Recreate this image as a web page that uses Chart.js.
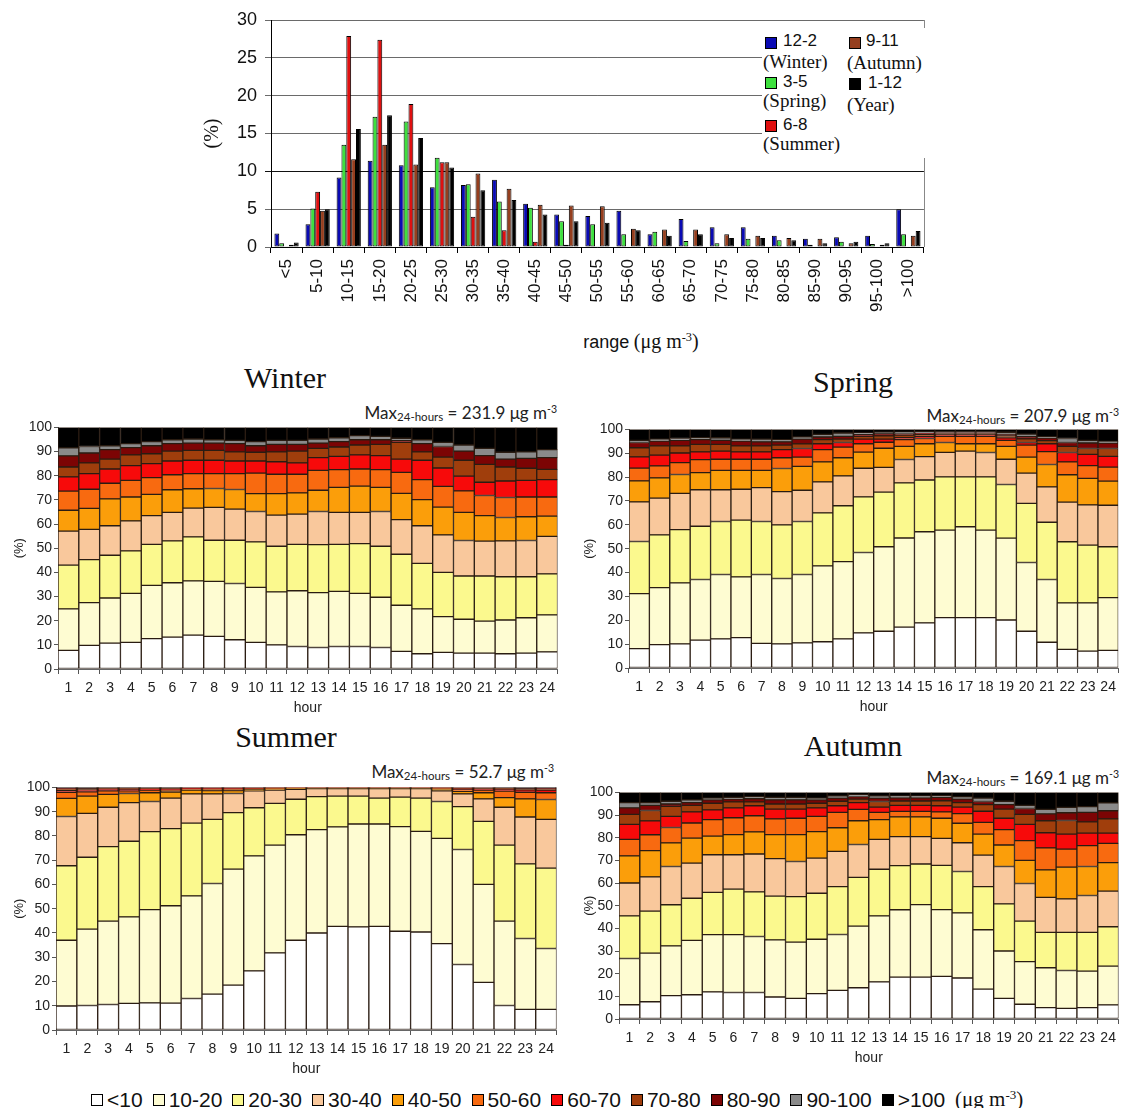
<!DOCTYPE html>
<html>
<head>
<meta charset="utf-8">
<title>PM distribution by range and hour</title>
<script src="https://cdn.jsdelivr.net/npm/chart.js@4.4.1/dist/chart.umd.min.js"></script>
<style>
    html, body { margin: 0; padding: 0; background: #fff; overflow: hidden; }
    #page { position: relative; width: 1122px; height: 1108px; font-family: "Liberation Sans", Arial, sans-serif; color: #111; }
    canvas { position: absolute; }
    .abs { position: absolute; white-space: nowrap; line-height: 1; }
    .serif { font-family: "Liberation Serif", "Times New Roman", serif; }
    .season { font-family: "Liberation Serif", serif; font-size: 30px; transform: translate(-50%, -50%); }
    .maxlbl { font-family: Lato, "Open Sans", sans-serif; font-size: 17px; color: #222; transform: translate(-100%, -50%); }
    sup { font-size: 0.62em; vertical-align: 0.55em; line-height: 0; }
    sub { font-size: 0.68em; vertical-align: -0.25em; line-height: 0; }
    .sw { position: absolute; width: 10px; height: 10px; border: 1px solid #000; }
    #topLegend { position: absolute; left: 762px; top: 28px; width: 163px; height: 130px; background: #fff; }
    #topLegend .t1 { position: absolute; font-size: 17px; line-height: 1; }
    #topLegend .t2 { position: absolute; font-size: 19px; line-height: 1; font-family: "Liberation Serif", serif; }
    #bottomLegend { position: absolute; left: 91px; top: 1087px; display: flex; align-items: center; gap: 10px; font-size: 21px; }
    #bottomLegend .item { display: flex; align-items: center; gap: 4px; }
    #bottomLegend .box { width: 10px; height: 10px; border: 1px solid #000; }
</style>
</head>
<body>
<div id="page">
    <canvas id="rangeChart"></canvas>

    <div id="topLegend">
        <div class="sw" style="left:3px;top:9px;background:#0a0ab4"></div>
        <div class="t1" style="left:21px;top:4px">12-2</div>
        <div class="t2" style="left:1px;top:24px">(Winter)</div>
        <div class="sw" style="left:3px;top:49px;background:#3ee03e"></div>
        <div class="t1" style="left:21px;top:45px">3-5</div>
        <div class="t2" style="left:1px;top:63px">(Spring)</div>
        <div class="sw" style="left:3px;top:92px;background:#e01010"></div>
        <div class="t1" style="left:21px;top:88px">6-8</div>
        <div class="t2" style="left:1px;top:106px">(Summer)</div>
        <div class="sw" style="left:87px;top:9px;background:#953e1e"></div>
        <div class="t1" style="left:104px;top:4px">9-11</div>
        <div class="t2" style="left:85px;top:25px">(Autumn)</div>
        <div class="sw" style="left:87px;top:50px;background:#000"></div>
        <div class="t1" style="left:106px;top:46px">1-12</div>
        <div class="t2" style="left:85px;top:67px">(Year)</div>
    </div>

    <div class="abs" style="left:641px;top:341px;transform:translate(-50%,-50%)">
        <span style="font-size:18px">range</span> <span class="serif" style="font-size:20px">(μg m<sup>-3</sup>)</span>
    </div>

    <div class="abs season" style="left:285px;top:378px">Winter</div>
    <div class="abs season" style="left:853px;top:382px">Spring</div>
    <div class="abs season" style="left:286px;top:737px">Summer</div>
    <div class="abs season" style="left:853px;top:746px">Autumn</div>

    <div class="abs maxlbl" style="left:557px;top:412px">Max<sub>24-hours</sub> = 231.9 μg m<sup>-3</sup></div>
    <div class="abs maxlbl" style="left:1119px;top:415px">Max<sub>24-hours</sub> = 207.9 μg m<sup>-3</sup></div>
    <div class="abs maxlbl" style="left:554px;top:771px">Max<sub>24-hours</sub> = 52.7 μg m<sup>-3</sup></div>
    <div class="abs maxlbl" style="left:1119px;top:777px">Max<sub>24-hours</sub> = 169.1 μg m<sup>-3</sup></div>

    <canvas id="winterChart"></canvas>
    <canvas id="springChart"></canvas>
    <canvas id="summerChart"></canvas>
    <canvas id="autumnChart"></canvas>

    <div id="bottomLegend"></div>
</div>

<script>
// ---- top chart: frequency (%) per concentration range ----
const rangeLabels = ['<5', '5-10', '10-15', '15-20', '20-25', '25-30', '30-35', '35-40', '40-45', '45-50',
    '50-55', '55-60', '60-65', '65-70', '70-75', '75-80', '80-85', '85-90', '90-95', '95-100', '>100'];
const winterPct = [1.8, 3.0, 9.2, 11.4, 10.8, 7.9, 8.2, 8.9, 5.7, 4.3, 4.1, 4.8, 1.7, 3.7, 2.6, 2.6, 1.5, 1.1, 1.3, 1.5, 5.0];
const springPct = [0.5, 5.1, 13.5, 17.2, 16.6, 11.8, 8.3, 6.0, 5.2, 3.4, 3.0, 1.7, 2.0, 0.8, 0.5, 1.1, 0.9, 0.3, 0.7, 0.4, 1.7];
const summerPct = [0.1, 7.3, 27.9, 27.4, 18.9, 11.2, 4.0, 2.2, 0.7, 0.3, 0.1, 0, 0, 0, 0, 0, 0, 0, 0, 0, 0];
const autumnPct = [0.3, 4.8, 11.6, 13.5, 10.9, 11.2, 9.7, 7.7, 5.6, 5.5, 5.4, 2.4, 2.3, 2.3, 1.7, 1.5, 1.2, 1.1, 0.5, 0.3, 1.5];
const yearPct = [0.6, 5.0, 15.6, 17.4, 14.4, 10.5, 7.5, 6.2, 4.3, 3.4, 3.2, 2.2, 1.5, 1.7, 1.2, 1.2, 0.9, 0.5, 0.7, 0.5, 2.1];
const pctTicks = [0, 5, 10, 15, 20, 25, 30];

// ---- hourly charts: cumulative top (%) of each class, per hour 1..24 ----
// columns: <10, 10-20, 20-30, 30-40, 40-50, 50-60, 60-70, 70-80, 80-90, 90-100 (>100 goes up to 100)
const hours = ['1', '2', '3', '4', '5', '6', '7', '8', '9', '10', '11', '12',
    '13', '14', '15', '16', '17', '18', '19', '20', '21', '22', '23', '24'];
const binLabels = ['<10', '10-20', '20-30', '30-40', '40-50', '50-60', '60-70', '70-80', '80-90', '90-100', '>100'];

const winterTops = [
    [7.7, 24.9, 43.0, 57.1, 65.7, 73.6, 79.5, 83.6, 88.2, 91.5],
    [9.8, 27.5, 45.3, 57.8, 66.5, 74.4, 80.9, 85.3, 89.4, 92.1],
    [10.7, 29.4, 47.1, 59.3, 70.4, 76.9, 82.8, 86.9, 90.8, 92.4],
    [11.0, 31.3, 48.9, 61.3, 71.2, 78.1, 84.2, 88.6, 91.6, 93.3],
    [12.6, 34.6, 51.6, 63.5, 72.3, 79.2, 85.0, 89.1, 92.4, 94.1],
    [13.2, 35.7, 53.0, 64.8, 74.2, 80.4, 86.1, 90.2, 93.3, 94.9],
    [14.0, 36.5, 54.7, 66.6, 74.6, 80.9, 86.4, 90.5, 93.5, 95.2],
    [13.5, 36.3, 53.3, 66.9, 74.7, 80.9, 86.4, 90.5, 93.5, 94.9],
    [12.1, 35.4, 53.3, 66.2, 74.3, 80.9, 86.1, 89.9, 93.3, 94.6],
    [11.0, 33.8, 52.6, 65.2, 72.6, 81.1, 86.1, 89.7, 92.4, 94.1],
    [10.0, 31.9, 50.8, 63.7, 72.6, 80.6, 85.8, 89.9, 93.0, 94.6],
    [9.3, 32.4, 51.6, 64.1, 72.9, 80.6, 85.3, 90.2, 93.0, 94.6],
    [8.9, 31.6, 51.5, 65.2, 74.0, 82.2, 87.5, 91.3, 93.5, 95.2],
    [9.3, 32.1, 51.6, 64.8, 75.2, 82.5, 88.0, 91.9, 94.1, 95.7],
    [9.3, 31.3, 51.9, 64.8, 75.7, 82.8, 88.6, 92.7, 94.9, 96.6],
    [8.9, 29.7, 50.8, 65.2, 75.2, 82.5, 88.3, 93.0, 94.9, 96.3],
    [7.3, 26.4, 47.5, 61.8, 72.7, 81.4, 86.9, 93.8, 94.6, 95.5],
    [6.3, 24.9, 43.7, 59.3, 70.1, 78.4, 86.4, 89.9, 93.3, 94.9],
    [6.9, 21.7, 40.0, 55.5, 67.0, 75.6, 83.2, 87.7, 92.1, 93.8],
    [6.6, 20.6, 38.5, 53.2, 64.8, 73.7, 79.8, 86.4, 90.2, 92.7],
    [6.6, 19.8, 38.5, 52.9, 63.5, 71.8, 77.3, 84.7, 88.3, 91.3],
    [6.3, 20.3, 38.2, 53.0, 62.7, 71.0, 77.8, 83.6, 86.9, 89.7],
    [6.6, 21.2, 38.2, 53.2, 63.0, 71.2, 78.1, 83.1, 87.2, 89.9],
    [7.1, 22.4, 39.4, 54.9, 63.3, 71.2, 78.4, 82.6, 87.5, 90.8]
];

const springTops = [
    [8.1, 31.2, 53.0, 69.6, 78.4, 83.8, 88.5, 92.3, 94.5, 95.4],
    [9.8, 33.7, 55.8, 71.2, 79.7, 84.7, 89.2, 93.1, 95.1, 95.9],
    [10.1, 35.7, 58.0, 73.2, 81.1, 86.1, 90.1, 93.1, 95.4, 96.2],
    [11.7, 37.1, 59.4, 74.7, 81.9, 87.3, 90.6, 93.7, 95.7, 96.5],
    [12.2, 39.2, 61.4, 74.7, 82.8, 87.5, 90.9, 93.7, 95.4, 96.5],
    [12.7, 38.2, 62.0, 74.9, 82.8, 87.5, 90.6, 93.1, 95.1, 95.9],
    [10.3, 39.2, 61.4, 75.6, 82.8, 87.5, 90.6, 93.1, 94.8, 95.9],
    [10.1, 37.5, 60.0, 73.9, 83.6, 88.1, 91.5, 93.4, 94.8, 95.7],
    [10.5, 39.2, 61.4, 74.5, 84.5, 88.4, 92.0, 93.9, 95.9, 96.8],
    [11.0, 42.8, 65.0, 78.0, 86.4, 91.5, 94.0, 95.7, 96.8, 97.9],
    [12.2, 44.6, 68.0, 80.5, 88.1, 92.6, 94.5, 95.9, 97.1, 98.5],
    [14.7, 48.4, 71.7, 83.7, 90.5, 94.0, 95.9, 97.1, 97.9, 98.5],
    [15.4, 50.8, 73.7, 84.1, 92.1, 94.6, 95.9, 97.3, 98.2, 98.8],
    [17.1, 54.5, 77.6, 87.4, 92.9, 95.7, 96.5, 97.6, 98.3, 98.8],
    [18.9, 57.1, 78.8, 88.6, 94.0, 96.2, 97.1, 97.9, 98.5, 99.0],
    [21.1, 57.8, 80.1, 90.4, 94.5, 97.1, 97.8, 98.3, 98.7, 99.0],
    [21.1, 59.2, 80.1, 90.9, 94.0, 97.1, 97.8, 98.3, 98.7, 99.0],
    [21.1, 57.8, 80.1, 90.3, 94.0, 97.1, 97.8, 98.3, 98.7, 99.0],
    [20.1, 54.4, 76.9, 87.5, 92.9, 95.4, 96.5, 97.3, 98.0, 98.8],
    [15.4, 44.2, 69.0, 81.7, 88.4, 93.4, 94.5, 96.0, 97.0, 98.0],
    [10.8, 37.1, 61.1, 75.9, 85.3, 90.7, 94.0, 95.3, 96.4, 97.0],
    [7.8, 27.3, 52.9, 69.5, 81.0, 86.4, 90.3, 92.9, 94.5, 96.2],
    [7.1, 27.3, 51.5, 68.4, 79.5, 84.8, 89.5, 92.0, 94.3, 95.4],
    [7.4, 29.5, 50.8, 68.2, 78.3, 84.2, 88.7, 92.0, 94.3, 95.0]
];

const summerTops = [
    [9.9, 37.0, 67.7, 88.0, 95.5, 98.0, 98.8, 99.4, 99.8, 99.9],
    [10.1, 41.6, 71.2, 89.3, 96.4, 98.2, 99.0, 99.5, 99.8, 99.9],
    [10.5, 44.9, 75.6, 91.8, 97.1, 98.6, 99.3, 99.6, 99.8, 99.9],
    [11.0, 46.6, 77.8, 93.7, 97.5, 98.6, 99.2, 99.6, 99.8, 99.9],
    [11.2, 49.6, 81.8, 94.2, 97.8, 98.9, 99.3, 99.6, 99.8, 99.9],
    [11.1, 51.2, 83.0, 95.6, 98.1, 99.0, 99.4, 99.7, 99.8, 99.9],
    [13.0, 55.3, 85.3, 97.3, 98.9, 99.4, 99.6, 99.8, 99.9, 100],
    [14.8, 60.4, 86.8, 97.3, 98.7, 99.3, 99.6, 99.8, 99.9, 100],
    [18.5, 66.3, 89.6, 97.5, 98.7, 99.3, 99.6, 99.8, 99.9, 100],
    [24.4, 71.8, 91.6, 98.6, 99.2, 99.5, 99.7, 99.8, 99.9, 100],
    [31.8, 76.2, 93.4, 98.9, 99.4, 99.6, 99.8, 99.9, 100, 100],
    [37.0, 80.5, 95.1, 99.2, 99.6, 99.8, 99.9, 100, 100, 100],
    [40.0, 82.6, 96.2, 99.5, 99.8, 99.9, 100, 100, 100, 100],
    [42.7, 83.7, 96.4, 99.5, 99.8, 99.9, 100, 100, 100, 100],
    [42.5, 84.9, 96.4, 99.5, 99.8, 99.9, 100, 100, 100, 100],
    [42.7, 84.9, 95.6, 99.5, 99.8, 99.9, 100, 100, 100, 100],
    [40.7, 83.8, 96.0, 99.5, 99.8, 99.9, 100, 100, 100, 100],
    [40.4, 81.9, 95.6, 99.5, 99.8, 99.9, 100, 100, 100, 100],
    [35.6, 79.0, 94.2, 98.6, 99.3, 99.6, 99.8, 99.9, 100, 100],
    [27.0, 74.4, 92.1, 97.3, 98.4, 99.1, 99.5, 99.7, 99.9, 100],
    [19.6, 60.0, 86.0, 95.3, 97.8, 98.9, 99.4, 99.7, 99.9, 100],
    [10.1, 44.9, 76.2, 91.8, 95.8, 98.5, 99.2, 99.6, 99.8, 99.9],
    [8.5, 37.7, 68.5, 87.8, 95.3, 98.0, 99.0, 99.5, 99.8, 99.9],
    [8.5, 33.6, 66.7, 86.8, 95.0, 97.8, 98.9, 99.4, 99.8, 99.9]
];

const autumnTops = [
    [6.3, 26.7, 45.5, 60.0, 72.0, 79.3, 85.9, 90.3, 93.2, 95.5],
    [7.6, 29.1, 47.6, 62.7, 74.3, 81.3, 87.4, 92.0, 94.3, 95.5],
    [10.3, 32.3, 50.4, 67.3, 77.7, 84.5, 89.4, 93.8, 94.9, 96.1],
    [10.7, 34.7, 53.3, 68.8, 79.8, 86.5, 91.4, 94.3, 95.5, 96.7],
    [12.0, 37.2, 55.9, 72.5, 80.7, 88.0, 92.3, 95.2, 96.7, 97.5],
    [11.7, 37.2, 57.3, 72.5, 81.4, 88.8, 93.2, 95.8, 97.0, 97.8],
    [11.7, 36.4, 56.1, 72.8, 82.6, 89.7, 94.1, 95.8, 97.2, 98.1],
    [9.7, 34.9, 54.2, 70.8, 81.4, 88.3, 92.6, 94.9, 96.7, 97.8],
    [9.1, 33.9, 54.0, 69.5, 81.4, 88.6, 92.6, 94.9, 96.7, 97.8],
    [11.2, 35.2, 55.5, 71.0, 82.7, 89.4, 93.2, 95.2, 96.7, 97.5],
    [12.6, 37.3, 58.4, 74.0, 84.4, 91.2, 94.1, 96.1, 97.5, 98.4],
    [13.8, 41.0, 62.5, 77.0, 87.5, 92.5, 95.5, 97.0, 98.2, 99.0],
    [16.4, 45.5, 66.1, 79.3, 88.0, 91.2, 93.5, 96.0, 97.5, 98.4],
    [18.5, 48.2, 67.7, 80.5, 89.2, 91.6, 94.3, 96.2, 97.6, 98.4],
    [18.5, 50.5, 68.4, 80.5, 89.2, 91.6, 94.3, 96.2, 97.6, 98.4],
    [18.8, 48.3, 67.8, 79.7, 88.6, 91.4, 94.1, 96.3, 97.8, 98.6],
    [18.1, 46.8, 65.1, 77.8, 86.4, 90.6, 93.5, 95.5, 97.0, 98.0],
    [13.2, 39.4, 58.4, 72.3, 81.6, 86.8, 91.7, 94.6, 96.0, 97.5],
    [9.1, 30.0, 50.8, 67.3, 76.8, 83.6, 88.6, 92.6, 94.6, 96.1],
    [6.5, 25.3, 43.2, 59.8, 70.0, 78.7, 85.9, 90.3, 92.9, 94.3],
    [5.0, 22.6, 38.2, 53.7, 65.8, 75.5, 82.2, 87.5, 90.5, 92.5],
    [4.7, 21.4, 38.2, 53.0, 67.0, 75.0, 81.6, 87.6, 91.0, 93.4],
    [5.0, 21.1, 38.2, 54.5, 67.3, 76.5, 82.0, 87.0, 91.2, 93.7],
    [6.2, 23.3, 40.7, 56.4, 69.0, 77.5, 82.0, 88.3, 91.9, 95.4]
];

const binColors = ['#ffffff', '#fefcd2', '#fbf98e', '#f9c89c', '#fb9e0a', '#f86a10', '#f70a0a', '#a03e0c', '#7c0404', '#8a8a8a', '#000000'];

document.addEventListener("DOMContentLoaded", function() {
    const sans = '"Liberation Sans", Arial, sans-serif';
    const serif = '"Liberation Serif", "Times New Roman", serif';

    // small plugin for the grey frame on the right of the top chart
    const rightFrame = {
        id: 'rightFrame',
        afterDraw: function(chart) {
            const a = chart.chartArea;
            const c = chart.ctx;
            c.save();
            c.strokeStyle = '#888';
            c.lineWidth = 1;
            c.beginPath();
            c.moveTo(Math.round(a.right) + 0.5, a.top);
            c.lineTo(Math.round(a.right) + 0.5, a.bottom);
            c.stroke();
            c.restore();
        }
    };

    // Top chart (grouped bars)
    const rangeCanvas = document.getElementById('rangeChart');
    rangeCanvas.width = 745;
    rangeCanvas.height = 330;
    rangeCanvas.style.left = '190px';
    rangeCanvas.style.top = '0px';
    new Chart(rangeCanvas.getContext('2d'), {
        type: 'bar',
        data: {
            labels: rangeLabels,
            datasets: [
                { label: '12-2 (Winter)', data: winterPct, backgroundColor: '#0a0ab4' },
                { label: '3-5 (Spring)', data: springPct, backgroundColor: '#3ee03e' },
                { label: '6-8 (Summer)', data: summerPct, backgroundColor: '#e01010' },
                { label: '9-11 (Autumn)', data: autumnPct, backgroundColor: '#953e1e' },
                { label: '1-12 (Year)', data: yearPct, backgroundColor: '#000000' }
            ]
        },
        options: {
            responsive: false,
            animation: false,
            layout: { padding: { top: 20, right: 9, left: 0, bottom: 0 } },
            datasets: { bar: { barPercentage: 1, categoryPercentage: 0.78, borderColor: '#000', borderWidth: 1, borderSkipped: false } },
            plugins: { legend: { display: false }, tooltip: { enabled: false } },
            scales: {
                x: {
                    grid: { display: true, drawOnChartArea: false, tickLength: 6, color: '#000' },
                    border: { color: '#000' },
                    ticks: { font: { family: sans, size: 17 }, color: '#111', minRotation: 90, maxRotation: 90, autoSkip: false, padding: 6 },
                    afterFit: function(s) { s.height = 83; }
                },
                y: {
                    min: 0,
                    max: 30,
                    afterBuildTicks: function(s) { s.ticks = pctTicks.map(function(v) { return { value: v }; }); },
                    ticks: { font: { family: sans, size: 18 }, color: '#111', padding: 8 },
                    grid: {
                        tickLength: 6,
                        color: function(ctx) { return ctx.tick && ctx.tick.value === 10 ? '#111' : '#6a6a6a'; }
                    },
                    border: { color: '#000' },
                    title: { display: true, text: '(%)', font: { family: serif, size: 20 }, color: '#111', padding: { top: 11, bottom: 0 } },
                    afterFit: function(s) { s.width = 81; }
                }
            }
        },
        plugins: [rightFrame]
    });

    // Hourly stacked charts, drawn as floating bars between class limits
    function seasonChart(id, tops, box) {
        const canvas = document.getElementById(id);
        const left = box.left - 58;
        const top = box.top - 10;
        canvas.width = box.right - left + 3;
        canvas.height = box.bottom - box.top + 60;
        canvas.style.left = left + 'px';
        canvas.style.top = top + 'px';

        const datasets = binLabels.map(function(label, k) {
            return {
                label: label,
                data: tops.map(function(row) {
                    const lo = k === 0 ? 0 : row[k - 1];
                    const hi = k === binLabels.length - 1 ? 100 : row[k];
                    return [lo, hi];
                }),
                backgroundColor: binColors[k],
                borderColor: '#2a1c12',
                borderWidth: 1,
                borderSkipped: false
            };
        });

        new Chart(canvas.getContext('2d'), {
            type: 'bar',
            data: { labels: hours, datasets: datasets },
            options: {
                responsive: false,
                animation: false,
                layout: { padding: { top: 10, right: 3, left: 0, bottom: 0 } },
                datasets: { bar: { grouped: false, barPercentage: 1, categoryPercentage: 1 } },
                plugins: { legend: { display: false }, tooltip: { enabled: false } },
                scales: {
                    x: {
                        grid: { display: true, drawOnChartArea: false, tickLength: 5, color: '#555' },
                        border: { color: '#666' },
                        ticks: { font: { family: sans, size: 14 }, color: '#222', padding: 6, maxRotation: 0, autoSkip: false },
                        title: { display: true, text: 'hour', font: { family: sans, size: 14 }, color: '#222', padding: { top: 0, bottom: 2 } },
                        afterFit: function(s) { s.height = 50; }
                    },
                    y: {
                        min: 0,
                        max: 100,
                        ticks: { stepSize: 10, font: { family: sans, size: 14 }, color: '#222', padding: 2 },
                        grid: { drawOnChartArea: false, tickLength: 4, color: '#555' },
                        border: { color: '#555' },
                        title: { display: true, text: '(%)', font: { family: sans, size: 13 }, color: '#222', padding: { top: box.titleX - left - 8, bottom: 0 } },
                        afterFit: function(s) { s.width = 58; }
                    }
                }
            }
        });
    }

    seasonChart('winterChart', winterTops, { left: 58, right: 558, top: 427, bottom: 669, titleX: 20 });
    seasonChart('springChart', springTops, { left: 629, right: 1119, top: 429, bottom: 668, titleX: 590 });
    seasonChart('summerChart', summerTops, { left: 56, right: 557, top: 787, bottom: 1030, titleX: 20 });
    seasonChart('autumnChart', autumnTops, { left: 619, right: 1119, top: 792, bottom: 1019, titleX: 590 });

    // bottom legend
    const legend = document.getElementById('bottomLegend');
    binLabels.forEach(function(label, k) {
        const item = document.createElement('div');
        item.className = 'item';
        const box = document.createElement('div');
        box.className = 'box';
        box.style.background = binColors[k];
        const txt = document.createElement('span');
        txt.textContent = label;
        item.appendChild(box);
        item.appendChild(txt);
        legend.appendChild(item);
    });
    const unit = document.createElement('span');
    unit.className = 'serif';
    unit.innerHTML = '(μg m<sup>-3</sup>)';
    legend.appendChild(unit);
});
</script>
</body>
</html>
